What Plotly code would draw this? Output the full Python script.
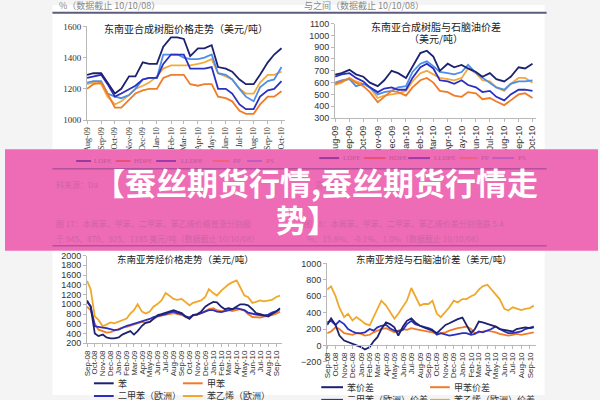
import plotly.graph_objects as go
import pandas as pd

W, H = 600, 400
def px(x): return x / W
def py(y): return 1 - y / H

# ---------------- data ----------------
top_dates = pd.date_range('2009-08-01', '2010-10-01', freq='SMS')   # semi-monthly
bot_dates = pd.date_range('2008-09-01', '2010-09-15', freq='SMS')

resin_names = ['LDPE', 'HDPE', 'LLDPE', 'PP', 'PS']
# 东南亚合成树脂价格走势
price_ldpe  = [1290,1300,1300,1240,1170,1200,1280,1280,1370,1360,1360,1470,1530,1530,1520,1410,1460,1460,1480,1340,1330,1310,1260,1230,1230,1290,1370,1420,1460]
price_hdpe  = [1200,1230,1240,1170,1080,1080,1130,1170,1190,1200,1200,1270,1290,1290,1290,1230,1220,1230,1230,1150,1140,1120,1060,1040,1040,1100,1150,1150,1185]
price_lldpe = [1270,1280,1290,1230,1150,1170,1200,1220,1260,1270,1270,1360,1420,1420,1420,1330,1330,1330,1340,1200,1200,1170,1100,1070,1070,1150,1190,1200,1250]
price_pp    = [1230,1240,1230,1150,1100,1120,1160,1200,1220,1240,1280,1330,1350,1350,1350,1350,1360,1370,1390,1300,1280,1260,1200,1170,1170,1240,1290,1290,1310]
price_ps    = [1240,1250,1250,1170,1150,1140,1160,1200,1260,1270,1270,1420,1420,1420,1400,1390,1390,1400,1420,1300,1290,1260,1200,1150,1120,1210,1250,1260,1340]
# 东南亚合成树脂与石脑油价差
spread_ldpe  = [667,680,708,670,650,600,570,620,700,680,640,730,850,870,820,700,760,730,750,720,690,650,680,630,610,650,730,720,760]
spread_hdpe  = [590,610,635,600,570,520,435,480,530,520,490,560,620,640,600,530,520,490,480,520,510,460,470,440,410,450,500,510,470]
spread_lldpe = [650,670,680,640,610,560,520,550,560,540,540,640,730,760,720,620,610,590,620,580,560,520,530,480,450,500,540,540,530]
spread_pp    = [580,600,640,610,590,560,470,490,500,510,530,610,680,700,670,640,630,620,640,720,680,620,610,560,530,590,640,640,600]
spread_ps    = [600,620,630,570,590,560,500,520,530,560,570,690,760,780,740,690,680,670,690,750,680,640,600,560,540,590,610,610,620]

arom_names = ['苯', '甲苯', '二甲苯（欧洲）', '苯乙烯（欧洲）']
# 东南亚芳烃价格走势
arom_benzene = [1080,950,400,350,380,320,300,300,320,380,420,450,380,450,560,620,640,700,780,800,830,850,880,850,820,750,700,780,800,850,950,1000,1050,1040,950,900,920,900,950,1000,1000,980,900,820,800,780,750,800,850,920]
arom_toluene = [950,880,600,480,450,420,430,460,500,520,540,560,580,600,640,620,640,700,750,770,780,800,820,800,780,740,720,770,790,820,860,900,920,880,860,870,880,860,880,900,870,800,740,740,730,750,760,780,810,850]
arom_xylene  = [1050,960,550,530,520,510,480,470,480,520,560,580,600,620,650,680,700,740,760,780,800,830,850,820,800,760,730,780,790,820,860,880,880,850,840,860,880,900,920,900,880,830,800,790,780,770,790,830,860,900]
arom_styrene = [1480,1310,750,680,550,580,630,610,650,680,710,810,880,1000,850,810,850,950,1010,1080,1230,1180,1110,1090,1110,1050,980,1030,1050,1080,1150,1310,1230,1180,1280,1350,1410,1450,1490,1350,1180,1150,1030,1050,1080,1060,1080,1090,1150,1180]

sp_names = ['苯价差', '甲苯价差', '二甲苯（欧洲）价差', '苯乙烯（欧洲）价差']
# 东南亚芳烃与石脑油价差
sp_benzene = [250,330,250,120,60,40,20,0,-20,-50,-20,50,100,200,280,260,220,120,230,300,330,280,240,220,200,180,150,200,250,270,300,320,340,250,150,200,290,280,260,240,230,200,190,180,170,200,210,220,210,220]
sp_toluene = [150,170,220,200,150,140,130,150,140,120,130,160,180,200,210,190,160,180,200,190,210,200,190,180,170,160,140,150,160,180,200,210,220,230,200,150,160,170,180,170,160,140,130,120,130,140,130,140,150,160]
sp_xylene  = [280,300,250,300,260,200,170,150,150,160,200,180,220,240,250,210,180,170,190,260,300,260,240,230,210,190,130,150,130,120,130,140,150,150,130,140,170,160,180,200,230,200,170,150,150,160,170,200,220,230]
sp_styrene = [680,720,600,460,345,385,305,345,305,265,245,345,465,545,485,405,325,385,465,545,700,600,485,505,505,545,385,345,405,465,545,525,565,565,600,620,680,720,740,680,620,565,445,425,465,445,430,445,455,485]

NAVY, BLUE, ORANGE, GOLD, LBLUE = '#1c2270', '#2a2fc0', '#f07c28', '#f4a93c', '#4d8ee6'
arom_colors = [NAVY, ORANGE, BLUE, '#f0a82a']

fig = go.Figure()

def add_lines(dates, series, colors, names, xa, ya, width=1.8):
    for s, c, n in zip(series, colors, names):
        fig.add_trace(go.Scatter(x=dates, y=s, mode='lines', name=n,
                                 line=dict(color=c, width=width),
                                 xaxis=xa, yaxis=ya, showlegend=False, hoverinfo='skip'))

# draw order: lighter first
add_lines(top_dates, [price_pp, price_ps, price_hdpe, price_lldpe, price_ldpe],
          [GOLD, LBLUE, ORANGE, BLUE, NAVY], ['PP','PS','HDPE','LLDPE','LDPE'], 'x', 'y')
add_lines(top_dates, [spread_pp, spread_ps, spread_hdpe, spread_lldpe, spread_ldpe],
          [GOLD, LBLUE, ORANGE, BLUE, NAVY], ['PP','PS','HDPE','LLDPE','LDPE'], 'x2', 'y2')
add_lines(bot_dates, [arom_styrene, arom_toluene, arom_xylene, arom_benzene],
          ['#f0a82a', ORANGE, BLUE, NAVY], ['苯乙烯','甲苯','二甲苯','苯'], 'x3', 'y3')
add_lines(bot_dates, [sp_styrene, sp_toluene, sp_xylene, sp_benzene],
          ['#f0a82a', ORANGE, BLUE, NAVY], ['苯乙烯','甲苯','二甲苯','苯'], 'x4', 'y4')

AX = '#b8b8b8'
def xax(dom, rng, fam, size, **kw):
    d = dict(domain=dom, type='date', range=rng, tickformat='%b-%y', dtick='M1',
             tickangle=-90, tickfont=dict(family=fam, size=size, color='#333'),
             showline=True, linecolor=AX, linewidth=1, ticks='outside', ticklen=3,
             tickcolor=AX, showgrid=False, zeroline=False, fixedrange=True)
    d.update(kw)
    return d

def yax(dom, rng, dt, fam, size, **kw):
    d = dict(domain=dom, range=rng, dtick=dt, tickfont=dict(family=fam, size=size, color='#333'),
             showline=True, linecolor=AX, linewidth=1, ticks='outside', ticklen=3,
             tickcolor=AX, showgrid=False, zeroline=False, fixedrange=True)
    d.update(kw)
    return d

SERIF = 'Liberation Serif'
SANS = 'Liberation Sans'

fig.update_layout(
    width=W, height=H, margin=dict(l=0, r=0, t=0, b=0),
    paper_bgcolor='#f4f4f4', plot_bgcolor='white', showlegend=False,
    xaxis=xax([px(83), px(283)], ['2009-08-01', '2010-10-08'], SERIF, 8, anchor='y', tick0='2009-08-01'),
    yaxis=yax([py(118), py(22)], [1000, 1600], 200, SERIF, 9, anchor='x'),
    xaxis2=xax([px(334), px(537)], ['2009-08-01', '2010-10-08'], SANS, 9, anchor='y2', tick0='2009-08-01'),
    yaxis2=yax([py(116), py(19)], [300, 1100], 100, SANS, 9, anchor='x2'),
    xaxis3=xax([px(83), px(280)], ['2008-09-01', '2010-09-22'], SANS, 8, anchor='y3', tick0='2008-09-01'),
    yaxis3=yax([py(347), py(257)], [200, 2000], 200, SANS, 9, anchor='x3'),
    xaxis4=xax([px(326), px(537)], ['2008-09-01', '2010-09-22'], SANS, 8, anchor='free',
               position=py(349), tick0='2008-09-01'),
    yaxis4=yax([py(366), py(265)], [-200, 1000], 200, SANS, 9, anchor='x4'),
)

shapes = []
# white page
shapes.append(dict(type='rect', xref='paper', yref='paper', x0=px(48), x1=px(546), y0=0, y1=1,
                   fillcolor='white', line=dict(width=0), layer='below'))
# top rule
shapes.append(dict(type='line', xref='paper', yref='paper', x0=px(48), x1=px(548), y0=py(8), y1=py(8),
                   line=dict(color='#5c5c7c', width=2), layer='above'))
# pink banner
shapes.append(dict(type='rect', xref='paper', yref='paper', x0=0, x1=1, y0=py(252), y1=py(148),
                   fillcolor='#ee6cb5', line=dict(width=0), layer='above'))
# faint rules under banner
for yy in (168, 247):
    shapes.append(dict(type='line', xref='paper', yref='paper', x0=px(48), x1=px(548), y0=py(yy), y1=py(yy),
                       line=dict(color='#b4509e', width=1.5), layer='above'))

annotations = []
def note(text, x, y, size=9, color='#333', family='Noto Sans CJK SC', xanchor='center', **kw):
    annotations.append(dict(text=text, x=px(x), y=py(y), xref='paper', yref='paper',
                            showarrow=False, xanchor=xanchor, yanchor='middle',
                            font=dict(size=size, color=color, family=family), **kw))

# faint legends under banner (top charts)
faint_line_cols = ['#9a3a9c', '#e8507a', '#a03aaa', '#f0607f', '#c05cc0']
tl_items = [(72, 87, 88), (112, 127, 128), (153, 173, 176), (210, 227, 229), (245, 260, 262)]
tr_items = [(318, 338, 340), (363, 385, 387), (408, 430, 432), (460, 478, 480), (493, 515, 517)]
for items, yy in ((tl_items, 160), (tr_items, 157)):
    for (x0, x1, xt), c, n in zip(items, faint_line_cols, resin_names):
        shapes.append(dict(type='line', xref='paper', yref='paper', x0=px(x0), x1=px(x1),
                           y0=py(yy), y1=py(yy), line=dict(color=c, width=2), layer='above'))
        note(n, xt, yy, size=7, color='#c4569c', family=SERIF, xanchor='left')

# faint text under banner
FAINT = '#cf62a6'
note('料来源：Da', 50, 184, size=8, color=FAINT, xanchor='left')
note('资料来源', 312, 184, size=8, color=FAINT, xanchor='left')
note('图 17：本周苯、甲苯、二甲苯、苯乙烯价格普涨分别报', 50, 224, size=8, color=FAINT, xanchor='left')
note('于 945、870、925、1185 美元/吨（数据截止 10/10/08）', 50, 239, size=8, color=FAINT, xanchor='left')
note('图 18：本周苯、甲苯、二甲苯、苯乙烯价差分别涨跌 5.4', 300, 224, size=8, color=FAINT, xanchor='left')
note('%、15.8%、-0.1%、1.0%（数据截止 10/10/08）', 304, 239, size=8, color=FAINT, xanchor='left')

# banner title
note('<b>【蚕丝期货行情,蚕丝期货行情走</b>', 315, 181, size=31, color='white', family='Noto Sans CJK SC')
note('<b>势】</b>', 306, 219, size=31, color='white', family='Noto Sans CJK SC')

# header fragments (cut at top)
note('%（数据截止 10/10/08）', 53, 1, size=9, color='#888', xanchor='left')
note('与之间（数据截止 10/10/08）', 300, 1, size=9, color='#888', xanchor='left')

# chart titles
note('东南亚合成树脂价格走势（美元/吨）', 183, 24, size=10, color='#222')
note('东南亚合成树脂与石脑油价差', 436, 22, size=10, color='#222')
note('（美元/吨）', 436, 34, size=10, color='#222')
note('东南亚芳烃价格走势（美元/吨）', 183, 261, size=9.5, color='#222')
note('东南亚芳烃与石脑油价差（美元/吨）', 434, 261, size=9.5, color='#222')

# bottom legends
bl = [(90, 110, 112, 388), (180, 200, 202, 388), (90, 110, 112, 401), (180, 200, 202, 401)]
for (x0, x1, xt, yy), c, n in zip(bl, arom_colors, arom_names):
    shapes.append(dict(type='line', xref='paper', yref='paper', x0=px(x0), x1=px(x1),
                       y0=py(yy), y1=py(yy), line=dict(color=c, width=2)))
    note(n, xt, yy, size=9, color='#333', xanchor='left')
br = [(320, 342, 344, 392), (430, 450, 452, 392), (320, 342, 344, 405), (430, 450, 452, 405)]
for (x0, x1, xt, yy), c, n in zip(br, arom_colors, sp_names):
    shapes.append(dict(type='line', xref='paper', yref='paper', x0=px(x0), x1=px(x1),
                       y0=py(yy), y1=py(yy), line=dict(color=c, width=2)))
    note(n, xt, yy, size=9, color='#333', xanchor='left')

fig.update_layout(shapes=shapes, annotations=annotations)
fig.write_html('out.html')
